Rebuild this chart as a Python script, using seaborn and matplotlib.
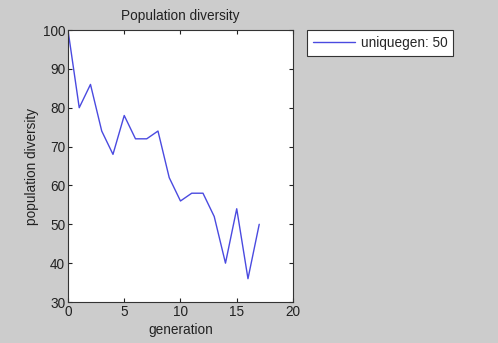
import matplotlib
matplotlib.use("Agg")
import matplotlib.pyplot as plt
import seaborn as sns
import pandas as pd

generation = [0, 1, 2, 3, 4, 5, 6, 7, 8, 9, 10, 11, 12, 13, 14, 15, 16, 17]
diversity = [100, 80, 86, 74, 68, 78, 72, 72, 74, 62, 56, 58, 58, 52, 40, 54, 36, 50]
series_label = "uniquegen: 50"

x_ticks = [0, 5, 10, 15, 20]
y_ticks = [30, 40, 50, 60, 70, 80, 90, 100]

sns.set_style("white")
plt.rcParams["font.family"] = ["Liberation Sans", "DejaVu Sans"]

df = pd.DataFrame({"generation": generation, "diversity": diversity})

fig = plt.figure(figsize=(4.98, 3.43), dpi=100, facecolor="#cccccc")
ax = fig.add_axes([0.1365, 0.1195, 0.4518, 0.793])
ax.set_facecolor("white")

sns.lineplot(data=df, x="generation", y="diversity", ax=ax, color="#4a4ae0",
             linewidth=1.0, label=series_label)

fs = 9.8
ax.set_xlim(0, 20)
ax.set_ylim(30, 100)
ax.set_xticks(x_ticks)
ax.set_yticks(y_ticks)
ax.tick_params(direction="in", length=3, labelsize=fs, colors="#222222",
               top=True, right=True, bottom=True, left=True, pad=2)
for s in ax.spines.values():
    s.set_color("#333333")
    s.set_linewidth(0.8)

ax.set_title("Population diversity", fontsize=fs, color="#222222", pad=7)
ax.set_xlabel("generation", fontsize=fs, color="#222222", labelpad=3)
ax.set_ylabel("population diversity", fontsize=fs, color="#222222", labelpad=3)

leg = ax.legend(loc="upper left", bbox_to_anchor=(1.062, 1.0), fontsize=fs,
                frameon=True, fancybox=False, borderpad=0.45, handlelength=3.1,
                handletextpad=0.4, borderaxespad=0)
leg.get_frame().set_edgecolor("#333333")
leg.get_frame().set_linewidth(0.8)
leg.get_frame().set_facecolor("white")
leg.get_frame().set_alpha(1)

fig.savefig("out.png", dpi=100, facecolor=fig.get_facecolor())
